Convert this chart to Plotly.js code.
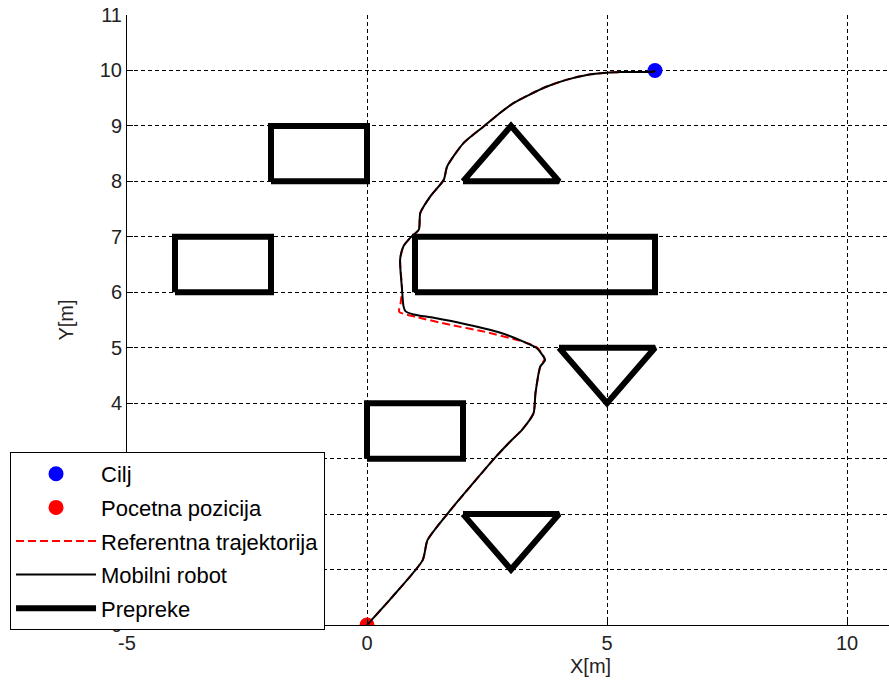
<!DOCTYPE html>
<html>
<head>
<meta charset="utf-8">
<script src="https://cdn.plot.ly/plotly-3.0.1.min.js"></script>
<style>html,body{margin:0;padding:0;background:#fff;}#plot{width:889px;height:689px;}</style>
</head>
<body>
<div id="plot"></div>
<script>
// Goal and start
const goalX = [6];
const goalY = [10];
const startX = [0];
const startY = [0];

// Reference trajectory
const refX = [0, 0.5, 1.16, 1.26, 1.68, 2.65, 3.02, 3.23, 3.47, 3.51, 3.61, 3.7, 3.55, 3.34, 3.13, 2.44, 1.75, 1.05, 0.67, 0.70, 0.73, 0.69, 0.76, 0.90, 1.08, 1.11, 1.32, 1.60, 1.67, 2.01, 2.43, 2.75, 3.05, 3.40, 3.75, 4.15, 4.58, 5.0, 5.28, 5.97, 6];
const refY = [0, 0.48, 1.17, 1.53, 2.01, 3.0, 3.34, 3.52, 3.82, 4.18, 4.66, 4.8, 5.0, 5.08, 5.14, 5.29, 5.41, 5.55, 5.65, 5.8, 6.05, 6.59, 6.83, 6.98, 7.13, 7.43, 7.73, 8.03, 8.27, 8.69, 8.99, 9.22, 9.41, 9.57, 9.71, 9.83, 9.92, 9.96, 9.97, 9.98, 10];

// Mobile robot trajectory
const robotX = [0, 0.5, 1.16, 1.26, 1.68, 2.65, 3.02, 3.23, 3.47, 3.51, 3.61, 3.71, 3.54, 3.26, 2.78, 2.08, 1.39, 0.97, 0.80, 0.76, 0.73, 0.69, 0.76, 0.90, 1.08, 1.11, 1.32, 1.60, 1.67, 2.01, 2.43, 2.75, 3.05, 3.40, 3.75, 4.15, 4.58, 5.0, 5.28, 5.97, 6];
const robotY = [0, 0.48, 1.17, 1.53, 2.01, 3.0, 3.34, 3.52, 3.82, 4.18, 4.66, 4.78, 4.99, 5.11, 5.27, 5.42, 5.54, 5.6, 5.66, 5.75, 6.05, 6.59, 6.83, 6.98, 7.13, 7.43, 7.73, 8.03, 8.27, 8.69, 8.99, 9.22, 9.41, 9.57, 9.71, 9.83, 9.92, 9.96, 9.97, 9.98, 10];

// Obstacles (closed polygons)
const rect1X = [-2, 0, 0, -2, -2], rect1Y = [8, 8, 9, 9, 8];
const rect2X = [-4, -2, -2, -4, -4], rect2Y = [6, 6, 7, 7, 6];
const rect3X = [1, 6, 6, 1, 1], rect3Y = [6, 6, 7, 7, 6];
const rect4X = [0, 2, 2, 0, 0], rect4Y = [3, 3, 4, 4, 3];
const tri1X = [2, 4, 3, 2], tri1Y = [8, 8, 9, 8];
const tri2X = [4, 6, 5, 4], tri2Y = [5, 5, 4, 5];
const tri3X = [2, 4, 3, 2], tri3Y = [2, 2, 1, 2];

const xTicks = [-5, 0, 5, 10];
const yTicks = [0, 1, 2, 3, 4, 5, 6, 7, 8, 9, 10, 11];

const obsList = [[rect1X, rect1Y], [rect2X, rect2Y], [rect3X, rect3Y], [rect4X, rect4Y], [tri1X, tri1Y], [tri2X, tri2Y], [tri3X, tri3Y]];
const obsX = [], obsY = [];
obsList.forEach(([ox, oy]) => { obsX.push(...ox, null); obsY.push(...oy, null); });

const FONT = 'Liberation Sans, Arial, sans-serif';

const traces = [
  {x: goalX, y: goalY, type: 'scatter', mode: 'markers', name: 'Cilj', legendgroup: 'a',
   marker: {color: '#0000ff', size: 15, symbol: 'circle'}},
  {x: startX, y: startY, type: 'scatter', mode: 'markers', name: 'Pocetna pozicija', legendgroup: 'b',
   marker: {color: '#ff0000', size: 15, symbol: 'circle'}},
  {x: refX, y: refY, type: 'scatter', mode: 'lines', name: 'Referentna trajektorija', legendgroup: 'c',
   line: {color: '#ff0000', width: 2, dash: '8px,4px', shape: 'spline', smoothing: 0.6}},
  {x: robotX, y: robotY, type: 'scatter', mode: 'lines', name: 'Mobilni robot', legendgroup: 'd',
   line: {color: '#000000', width: 2, shape: 'spline', smoothing: 0.6}},
  {x: obsX, y: obsY, type: 'scatter', mode: 'lines', name: 'Prepreke', legendgroup: 'e',
   line: {color: '#000000', width: 6}, connectgaps: false}
];

const layout = {
  width: 889, height: 689,
  margin: {l: 127, r: 0, t: 15, b: 64, pad: 0},
  paper_bgcolor: '#ffffff', plot_bgcolor: '#ffffff',
  font: {family: FONT, size: 20, color: '#000000'},
  showlegend: true,
  xaxis: {
    range: [-5, 10.875], tickvals: xTicks, ticktext: xTicks.map(String),
    showgrid: true, gridcolor: '#000000', gridwidth: 1, griddash: '4px,3px',
    zeroline: false, showline: true, linecolor: '#000000', linewidth: 1,
    ticks: 'inside', ticklen: 6, tickcolor: '#000000',
    tickfont: {family: FONT, size: 20, color: '#222222'}
  },
  yaxis: {
    range: [0, 11], tickvals: yTicks, ticktext: yTicks.map(String),
    showgrid: true, gridcolor: '#000000', gridwidth: 1, griddash: '4px,3px',
    zeroline: false, showline: true, linecolor: '#000000', linewidth: 1,
    ticks: 'inside', ticklen: 6, tickcolor: '#000000',
    tickfont: {family: FONT, size: 20, color: '#222222'},
    title: {text: 'Y[m]', font: {family: FONT, size: 20, color: '#222222'}, standoff: 20}
  },
  annotations: [
    {text: 'X[m]', xref: 'x', yref: 'paper', x: 4.65, y: 0, yshift: -41, xanchor: 'center', yanchor: 'middle',
     showarrow: false, font: {family: FONT, size: 20, color: '#222222'}}
  ],
  legend: {
    x: -0.1535, y: 0.2836, xanchor: 'left', yanchor: 'top',
    bgcolor: '#ffffff', bordercolor: '#000000', borderwidth: 1,
    font: {family: FONT, size: 22, color: '#000000'},
    itemwidth: 80, traceorder: 'grouped', tracegroupgap: 2, valign: 'middle',
    entrywidth: 240, entrywidthmode: 'pixels'
  }
};

Plotly.newPlot('plot', traces, layout, {displayModeBar: false, staticPlot: true});
</script>
</body>
</html>
